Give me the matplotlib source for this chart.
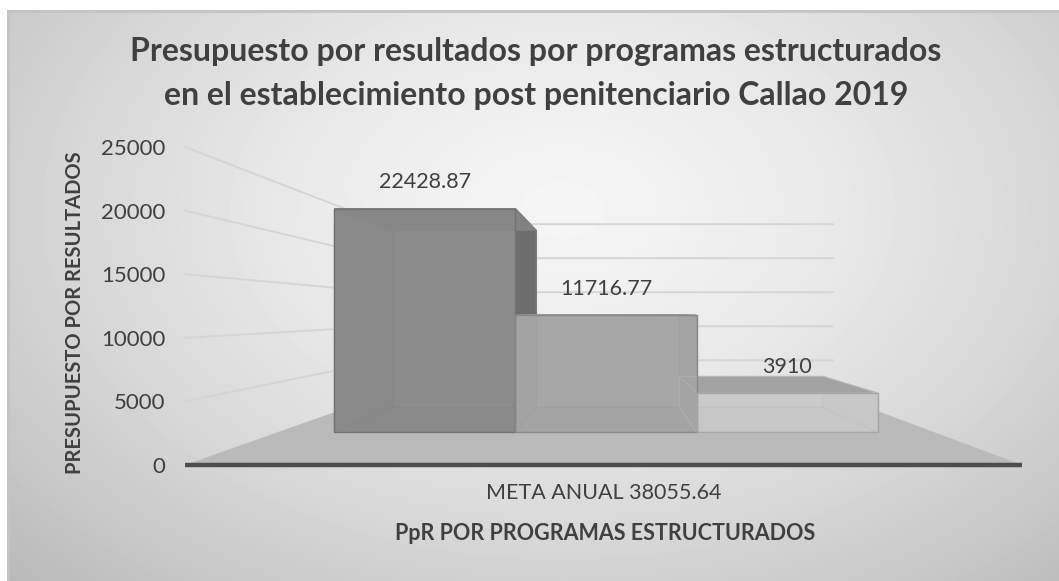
import numpy as np
import matplotlib
matplotlib.use("Agg")
import matplotlib.pyplot as plt
from matplotlib.patches import Polygon

# ---------------- data ----------------
category_label = "META ANUAL 38055.64"
series_values = [22428.87, 11716.77, 3910.0]
value_labels = ["22428.87", "11716.77", "3910"]
y_ticks = [0, 5000, 10000, 15000, 20000, 25000]
title_lines = ["Presupuesto por resultados por programas estructurados",
               "en el establecimiento post penitenciario Callao 2019"]
y_title = "PRESUPUESTO POR RESULTADOS"
x_title = "PpR POR PROGRAMAS ESTRUCTURADOS"

# ---------------- style ----------------
W, H, DPI = 1059, 581, 100
plt.rcParams['font.family'] = ['Lato', 'DejaVu Sans']
TXT = '#404040'
bar_colors = ['#8c8c8c', '#a7a7a7', '#cbcbcb']

fig = plt.figure(figsize=(W / DPI, H / DPI), dpi=DPI, facecolor='white')

# background radial gradient (chart area)
bg = fig.add_axes([7 / W, 0, (W - 7) / W, (H - 10) / H])
bg.set_axis_off()
gh, gw = H - 10, W - 7
yy, xx = np.mgrid[0:gh, 0:gw]
r = np.sqrt(((xx - 555) / 640.0) ** 2 + ((yy - 200) / 430.0) ** 2)
val = 0.96 - 0.175 * np.clip(r, 0, 1.4) ** 1.5
bg.imshow(val, cmap='gray', vmin=0, vmax=1, extent=[0, 1, 0, 1],
          origin='upper', aspect='auto', interpolation='bilinear')
bg.set_xlim(0, 1)
bg.set_ylim(0, 1)
bg.plot([0, 1], [0.998, 0.998], color='#c4c4c4', lw=2, transform=bg.transAxes)
bg.plot([0.001, 0.001], [0, 1], color='#c4c4c4', lw=2, transform=bg.transAxes)

# main axes (front plane)
ax = fig.add_axes([185 / W, (H - 465) / H, 837 / W, 318 / H])
ax.patch.set_alpha(0)
X_LEFT, X_RIGHT = -0.81, 2.81
ax.set_xlim(X_LEFT, X_RIGHT)
ax.set_ylim(0, 25000)
for sp in ax.spines.values():
    sp.set_visible(False)
ax.set_yticks(y_ticks)
ax.set_yticklabels([str(t) for t in y_ticks])
ax.tick_params(axis='y', length=0, pad=14, labelsize=16, labelcolor=TXT)
ax.set_xticks([1])
ax.set_xticklabels([category_label])
ax.tick_params(axis='x', length=0, pad=13, labelsize=15.5, labelcolor=TXT)

# perspective
VP_X, VP_Y = 1.05, 11950.0
S_BF, S_BB, S_WALL = 0.783, 0.62, 0.535


def proj(x, y, s):
    return (VP_X + (x - VP_X) * s, VP_Y + (y - VP_Y) * s)


def shade(c, f):
    c = np.array(matplotlib.colors.to_rgb(c))
    return tuple(np.clip(c * f, 0, 1))


# walls gridlines
for v in y_ticks[1:]:
    a = proj(X_LEFT, v, 1.0)
    b = proj(X_LEFT, v, S_WALL)
    c = proj(X_RIGHT, v, S_WALL)
    ax.plot([a[0], b[0], c[0]], [a[1], b[1], c[1]], color='#d5d5d5', lw=1.4,
            zorder=0.5, clip_on=False)

# floor
floor = [proj(X_LEFT, 0, 1.0), proj(X_RIGHT, 0, 1.0),
         proj(X_RIGHT, 0, S_WALL), proj(X_LEFT, 0, S_WALL)]
ax.add_patch(Polygon(floor, closed=True, fc='#bababa', ec='none', zorder=1))
ax.plot([X_LEFT, X_RIGHT], [0, 0], color='#4d4d4d', lw=3.2,
        solid_capstyle='butt', zorder=8, clip_on=False)

# bars: hidden / side faces
n = len(series_values)
for i, v in enumerate(series_values):
    x0, x1 = i - 0.5, i + 0.5
    col = bar_colors[i]
    ec = shade(col, 0.9)
    back = [proj(x0, 0, S_BB), proj(x1, 0, S_BB), proj(x1, v, S_BB), proj(x0, v, S_BB)]
    left = [proj(x0, 0, S_BF), proj(x0, 0, S_BB), proj(x0, v, S_BB), proj(x0, v, S_BF)]
    right = [proj(x1, 0, S_BF), proj(x1, 0, S_BB), proj(x1, v, S_BB), proj(x1, v, S_BF)]
    top = [proj(x0, v, S_BF), proj(x1, v, S_BF), proj(x1, v, S_BB), proj(x0, v, S_BB)]
    bottom = [proj(x0, 0, S_BF), proj(x1, 0, S_BF), proj(x1, 0, S_BB), proj(x0, 0, S_BB)]
    f_left = 0.8 if x0 > VP_X else 0.95
    f_right = 0.78 if x1 < VP_X else 0.96
    f_top = 0.8 if v < VP_Y else 0.93
    z = 2 + 0.01 * i
    ax.add_patch(Polygon(back, closed=True, fc=col, ec=ec, lw=0.8, zorder=z))
    ax.add_patch(Polygon(bottom, closed=True, fc=shade(col, 0.96), ec=ec, lw=0.8, zorder=z))
    ax.add_patch(Polygon(left, closed=True, fc=shade(col, f_left), ec=ec, lw=0.8, zorder=z))
    ax.add_patch(Polygon(right, closed=True, fc=shade(col, f_right), ec=ec, lw=0.8, zorder=z))
    ax.add_patch(Polygon(top, closed=True, fc=shade(col, f_top), ec=ec, lw=0.8, zorder=z))

# bars: front faces (semi-transparent like the original)
vals = np.array(series_values)
idx = np.arange(n)
fx0 = VP_X + (idx - 0.5 - VP_X) * S_BF
fx1 = VP_X + (idx + 0.5 - VP_X) * S_BF
fy0 = VP_Y + (0 - VP_Y) * S_BF
fy1 = VP_Y + (vals - VP_Y) * S_BF
ax.bar(fx0, fy1 - fy0, width=fx1 - fx0, bottom=fy0, align='edge',
       color=bar_colors, alpha=0.6, edgecolor='none', zorder=4)
ax.bar(fx0, fy1 - fy0, width=fx1 - fx0, bottom=fy0, align='edge',
       fill=False, edgecolor=[shade(c, 0.82) for c in bar_colors], lw=1.0, zorder=4.1)

# data labels
for i in range(n):
    ax.annotate(value_labels[i], xy=((fx0[i] + fx1[i]) / 2, fy1[i]),
                xytext=(0, 19), textcoords='offset points', ha='center', va='center',
                fontsize=15.5, color=TXT, zorder=10, annotation_clip=False)

# titles
fig.text(536 / W, 1 - 52 / H, title_lines[0], ha='center', va='center',
         fontsize=23, fontweight='bold', color=TXT)
fig.text(536 / W, 1 - 95 / H, title_lines[1], ha='center', va='center',
         fontsize=23, fontweight='bold', color=TXT)
fig.text(75 / W, 1 - 313 / H, y_title, ha='center', va='center', rotation=90,
         fontsize=14.5, fontweight='bold', color=TXT)
fig.text(605 / W, 1 - 533 / H, x_title, ha='center', va='center',
         fontsize=15.5, fontweight='bold', color=TXT)

fig.savefig('out.png', dpi=DPI, facecolor='white')
